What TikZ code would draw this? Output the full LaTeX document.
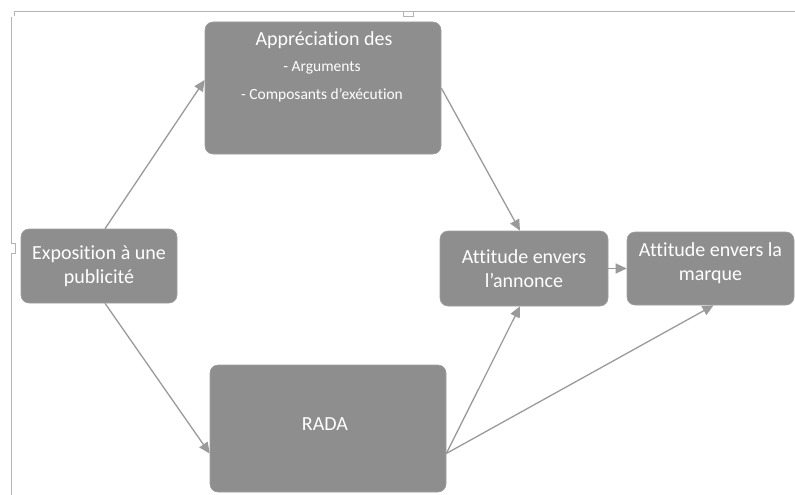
\documentclass[tikz,border=0pt]{standalone}
\usepackage{fontspec}
\setmainfont{Carlito}[Ligatures=NoCommon]
\usetikzlibrary{arrows.meta,calc}
\definecolor{boxgray}{HTML}{8E8E8E}
\definecolor{linegray}{HTML}{9A9A9A}
\definecolor{framegray}{HTML}{B4B4B4}
\tikzset{
  box/.style={draw=boxgray!85!white, line width=0.6pt, fill=boxgray, rounded corners=8pt, inner sep=0pt},
  boxtext/.style={text=white, align=center, font=\fontsize{20}{24}\selectfont, inner sep=0pt},
  subtext/.style={text=white, align=center, font=\fontsize{15.5}{28}\selectfont, inner sep=0pt},
  conn/.style={draw=linegray, line width=1.3pt, -{Triangle[length=11pt,width=10pt]}},
}
\begin{document}
\begin{tikzpicture}[x=1pt,y=-1pt]
\useasboundingbox (0,0) rectangle (795,495);
% frame
\draw[framegray, line width=1pt] (14,16) -- (14,12) -- (795,12);
\draw[framegray, line width=1pt] (11,17) -- (11,495);
\draw[framegray, line width=0.8pt, fill=white] (403,12) -- (403,16) -- (413,16) -- (413,12);
\draw[framegray, line width=0.8pt, fill=white] (11,243) -- (15,243) -- (15,253) -- (11,253);
% boxes
\node[box, minimum width=236pt, minimum height=132pt] (apprec) at (323,88) {};
\node[boxtext] (apprect) at (324,40) {Appréciation des};
\node[subtext] (apprecs) at (322,82) {- Arguments\\- Composants d’exécution};
\node[box, minimum width=156pt, minimum height=74pt, boxtext] (expo) at (99,266) {Exposition à une\\publicité};
\node[box, minimum width=168pt, minimum height=75pt, boxtext] (ann) at (524,268.5) {Attitude envers\\l’annonce};
\node[box, minimum width=167pt, minimum height=73pt] (marq) at (710.5,268.5) {};
\node[boxtext] (marqt) at (710.5,263) {Attitude envers la\\marque};
\node[box, minimum width=236pt, minimum height=127pt, boxtext] (rada) at (328,428.5) {};
\node[boxtext] (radat) at (325,424) {RADA};
% connectors
\draw[conn] ([xshift=6pt]expo.north) -- ([yshift=8pt]apprec.west);
\draw[conn] (apprec.east) -- ([xshift=-4pt]ann.north);
\draw[conn] ([xshift=6pt]expo.south) -- ([yshift=-25pt]rada.west);
\draw[conn] ([yshift=-25pt]rada.east) -- ([xshift=-4pt]ann.south);
\draw[conn] ([yshift=-25pt]rada.east) -- ([xshift=3pt]marq.south);
\draw[conn] (ann.east) -- (marq.west);
\end{tikzpicture}
\end{document}
